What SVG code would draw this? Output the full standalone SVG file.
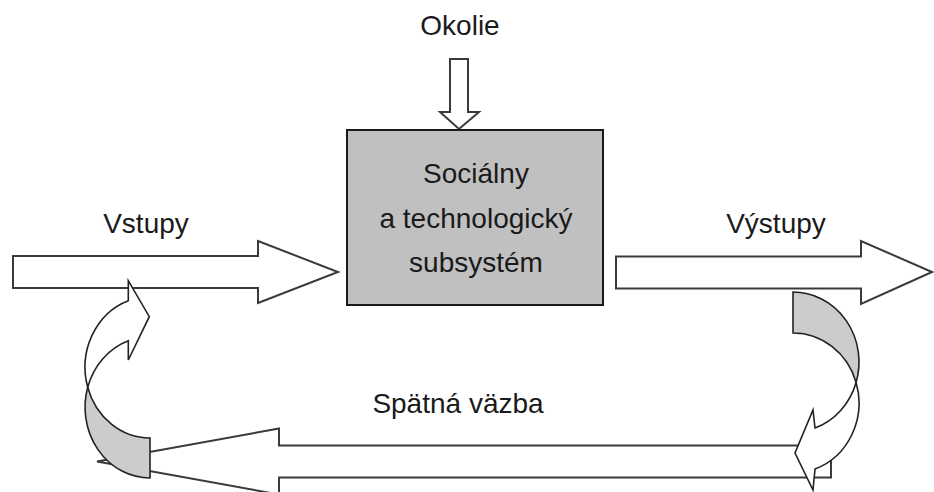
<svg xmlns="http://www.w3.org/2000/svg" width="934" height="492" viewBox="0 0 934 492">
<style>
.bg{fill:#ffffff}
.arrow{fill:#ffffff;stroke:#3a3a3a;stroke-width:2;stroke-linejoin:miter}
.curve{fill:#ffffff;stroke:#222222;stroke-width:1.6;stroke-linejoin:miter}
.back{fill:#cccccc;stroke:#222222;stroke-width:1.6}
.box{fill:#c0c0c0;stroke:#1a1a1a;stroke-width:2}
.lbl{font-family:"Liberation Sans",Arial,sans-serif;font-size:28px;fill:#1a1a1a;text-anchor:middle}
</style>
<rect class="bg" x="0" y="0" width="934" height="492"/>
<g id="connectors">
  <polygon id="feedback-arrow" class="arrow" points="831,445.5 279,445.5 279,428.5 97,461.5 279,494.5 279,477.5 831,477.5"/>
  <polygon id="input-arrow" class="arrow" points="13,256 258,256 258,241 338,272 258,303 258,288 13,288"/>
  <polygon id="output-arrow" class="arrow" points="616,256.5 861,256.5 861,241 932,272 861,304 861,288.5 616,288.5"/>
  <polygon id="environment-arrow" class="arrow" points="450,59 468,59 468,112 479,112 459,129 440,112 450,112"/>
  <g id="curve-left">
    <path class="back" d="M150,438 A65,70.7 0 0 1 87.7,387.3 A65,70.7 0 0 0 150,478 Z"/>
    <path class="curve" d="M87.7,387.3 A65,70.7 0 0 1 128.3,300.7 L128.3,280.7 L149.3,316.7 L128.3,360 L128.3,340.7 A65,70.7 0 0 0 87.7,387.3 Z"/>
  </g>
  <g id="curve-right">
    <path class="back" d="M793,292 A66,70 0 0 1 856.1,382.5 A66,70 0 0 0 793,333 Z"/>
    <path class="curve" d="M856.1,382.5 A66,70 0 0 1 815,469 L813,490 L795,453 L813,410 L815,428 A66,70 0 0 0 856.1,382.5 Z"/>
  </g>
</g>
<g id="node-system">
  <rect class="box" x="347" y="130" width="256" height="175"/>
  <text class="lbl" x="476" y="183">Sociálny</text>
  <text class="lbl" x="476" y="228">a technologický</text>
  <text class="lbl" x="476" y="272">subsystém</text>
</g>
<g id="label-okolie"><text class="lbl" x="460" y="35">Okolie</text></g>
<g id="label-vstupy"><text class="lbl" x="146" y="233">Vstupy</text></g>
<g id="label-vystupy"><text class="lbl" x="776" y="233">Výstupy</text></g>
<g id="label-spatna"><text class="lbl" x="458" y="413">Spätná väzba</text></g>
</svg>
